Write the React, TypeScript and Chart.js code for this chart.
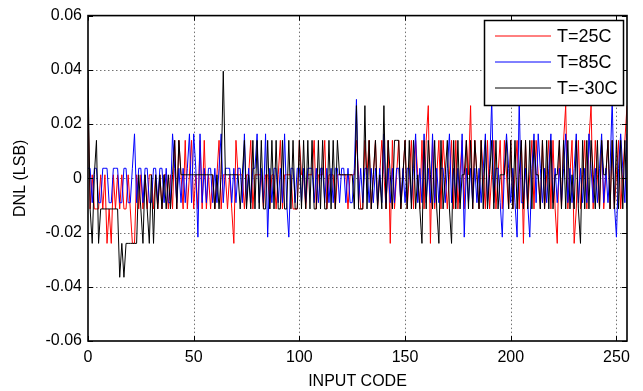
import React, { useEffect, useRef } from 'react';
import { Chart, registerables } from 'chart.js';

Chart.register(...registerables);

// ---------- data ----------
const X_TICKS = [0, 50, 100, 150, 200, 250];
const X_MIN = 0;
const X_MAX = 255;
const Y_TICKS = [-0.06, -0.04, -0.02, 0, 0.02, 0.04, 0.06];
const Y_TICK_LABELS = ['-0.06', '-0.04', '-0.02', '0', '0.02', '0.04', '0.06'];
const SERIES_NAMES = ['T=25C', 'T=85C', 'T=-30C'];
const SERIES_COLORS = ['#ff0000', '#0000ff', '#000000'];
const X_TITLE = 'INPUT CODE';
const Y_TITLE = 'DNL (LSB)';

const DNL_25C = [
  0.0268, -0.0113, 0.0013, -0.0113, -0.0113, -0.0113, 0.0013, -0.0113, 0.0013, -0.024, -0.0113, -0.024, 0.0013, -0.0113, 0.0013, -0.0113,
  0.0013, -0.0113, -0.0113, 0.0013, -0.0113, -0.024, -0.024, 0.0013, -0.0113, 0.0013, -0.0113, 0.0013, -0.0113, 0.0013, 0.0013, -0.0113,
  0.0013, -0.0113, 0.0013, -0.0113, 0.0013, 0.0013, -0.0113, 0.0013, -0.0113, 0.014, -0.0113, 0.014, 0.0013, -0.0113, 0.014, -0.0113,
  0.0013, 0.014, -0.0113, 0.0013, -0.0113, 0.014, -0.0113, 0.014, -0.0113, 0.0013, -0.0113, 0.0013, -0.0113, 0.0013, 0.014, -0.0113,
  0.0013, 0.0013, -0.0113, 0.0013, -0.0113, -0.024, 0.014, 0.0013, 0.0013, 0.0013, -0.0113, 0.0013, 0.0013, 0.014, -0.0113, 0.0013,
  0.0013, 0.0013, 0.0013, -0.0113, 0.0013, 0.0013, -0.0113, 0.0013, 0.0013, -0.0113, 0.0013, 0.014, -0.0113, 0.0013, 0.0013, 0.0013,
  0.0013, -0.0113, -0.0113, -0.0113, 0.014, 0.0013, 0.0013, -0.0113, 0.0013, 0.0013, 0.0013, 0.014, -0.0113, 0.0013, 0.0013, 0.0013,
  0.014, -0.0113, 0.0013, 0.0013, 0.0013, -0.0113, 0.0013, 0.0013, 0.0013, 0.0013, 0.0013, -0.0113, 0.0013, 0.0013, 0.0013, 0.014,
  0.0013, -0.0113, -0.0113, 0.014, 0.0013, 0.014, -0.0113, 0.0013, 0.014, -0.0113, 0.0013, 0.014, 0.0013, -0.0113, 0.014, -0.024,
  0.014, -0.0113, 0.0013, 0.014, -0.0113, 0.0013, 0.014, -0.0113, 0.0013, 0.014, -0.0113, 0.014, 0.0013, -0.0113, 0.014, -0.0113,
  0.014, 0.0268, -0.024, 0.014, -0.0113, 0.0013, 0.014, -0.0113, 0.014, 0.0013, -0.0113, 0.0013, 0.014, -0.0113, 0.014, -0.0113,
  0.0013, 0.014, -0.0113, 0.014, 0.0013, 0.0268, -0.0113, 0.014, 0.0013, -0.0113, 0.014, 0.0013, -0.0113, 0.014, -0.0113, 0.0013,
  0.014, -0.0113, 0.0013, 0.014, -0.0113, 0.014, 0.0013, -0.0113, 0.014, -0.0113, 0.0013, 0.014, -0.0113, 0.014, -0.024, 0.014,
  -0.0113, 0.0013, 0.014, -0.0113, 0.014, 0.0013, -0.0113, 0.014, -0.0113, 0.0013, 0.014, -0.0113, 0.014, -0.0113, -0.024, 0.014,
  -0.0113, 0.014, 0.0268, -0.0113, 0.0013, 0.014, -0.024, -0.0113, 0.014, -0.0113, 0.0013, 0.014, -0.0113, 0.014, 0.0268, -0.0113,
  0.014, 0.0013, -0.0113, 0.014, -0.0113, 0.0013, 0.014, -0.0113, 0.014, -0.0113, 0.0013, 0.014, -0.0113, 0.0013, 0.014, 0.0268,
];

const DNL_85C = [
  0.0037, 0.0037, -0.009, 0.0037, 0.0037, -0.009, -0.009, 0.0037, 0.0037, 0.0037, -0.009, -0.009, 0.0037, 0.0037, 0.0037, -0.009,
  -0.009, 0.0037, 0.0037, -0.009, -0.009, 0.0037, 0.0164, -0.009, 0.0037, 0.0037, -0.009, 0.0037, 0.0037, -0.009, -0.009, 0.0037,
  0.0037, -0.009, 0.0037, 0.0037, -0.009, 0.0037, -0.009, -0.009, 0.0164, 0.0037, -0.009, 0.0037, -0.009, 0.0037, -0.009, 0.0037,
  0.0164, -0.009, 0.0164, 0.0037, -0.0217, 0.0164, -0.009, 0.0037, -0.009, 0.0037, 0.0037, -0.009, 0.0037, -0.009, 0.0037, 0.0164,
  -0.009, 0.0037, 0.0037, 0.0037, -0.009, 0.0037, -0.009, 0.0037, 0.0037, -0.009, 0.0164, -0.009, 0.0037, -0.009, 0.0037, 0.0037,
  0.0164, -0.009, 0.0037, -0.009, 0.0164, -0.0217, 0.0037, -0.009, 0.0037, 0.0037, -0.009, 0.0037, -0.009, 0.0164, -0.009, -0.0217,
  0.0037, 0.0037, -0.009, 0.0037, 0.0037, -0.009, 0.0037, -0.009, 0.0037, 0.0037, 0.0037, -0.009, 0.0037, -0.009, 0.0037, 0.0037,
  -0.009, 0.0037, -0.009, 0.0037, -0.009, 0.0037, 0.0037, -0.009, 0.0037, 0.0037, -0.009, 0.0037, -0.009, -0.009, 0.0037, 0.0291,
  -0.009, 0.0037, -0.009, 0.0037, 0.0037, -0.009, 0.0037, -0.009, 0.0037, -0.009, 0.0037, -0.009, 0.0164, -0.009, 0.0037, -0.009,
  0.0037, -0.009, 0.0037, 0.0037, -0.009, 0.0037, -0.009, 0.0037, 0.0037, -0.009, 0.0037, 0.0164, -0.009, 0.0037, -0.009, 0.0164,
  -0.009, 0.0037, -0.009, 0.0164, -0.009, 0.0037, -0.009, 0.0037, 0.0037, -0.009, 0.0037, 0.0164, -0.009, 0.0037, -0.009, 0.0037,
  -0.009, 0.0164, -0.0217, 0.0037, -0.009, 0.0037, -0.009, 0.0037, -0.009, 0.0037, -0.009, 0.0037, 0.0164, -0.009, 0.0037, 0.0291,
  -0.009, 0.0037, 0.0037, -0.009, -0.0217, 0.0037, 0.0164, 0.0037, -0.009, 0.0037, -0.009, -0.0217, 0.0291, -0.009, -0.009, 0.0037,
  -0.009, -0.0217, 0.0037, 0.0164, -0.009, 0.0164, 0.0037, -0.009, 0.0037, -0.009, 0.0037, 0.0164, -0.009, 0.0037, -0.009, 0.0037,
  -0.009, 0.0037, 0.0164, -0.009, 0.0037, -0.009, 0.0037, 0.0164, -0.009, 0.0037, -0.009, 0.0037, -0.009, 0.0164, 0.0037, -0.009,
  0.0037, -0.009, 0.0037, 0.0164, -0.009, 0.0037, -0.009, 0.0037, 0.0291, -0.009, -0.0217, 0.0037, 0.0164, 0.0037, -0.009, 0.0164,
];

const DNL_M30C = [
  0.0395, -0.0113, -0.024, 0.0013, 0.014, -0.024, -0.0113, -0.0113, -0.0113, -0.0113, -0.0113, -0.0113, -0.0113, -0.0113, -0.0113, -0.0365,
  -0.024, -0.0365, -0.024, -0.024, -0.024, -0.024, -0.024, -0.024, 0.0013, -0.0113, -0.024, 0.0013, -0.0113, -0.024, 0.0013, -0.024,
  0.0013, -0.0113, 0.0013, -0.0113, 0.0013, -0.0113, 0.0013, -0.0113, 0.0013, 0.014, -0.0113, 0.014, 0.0013, 0.0013, 0.0013, 0.0013,
  0.0013, 0.0013, 0.0013, 0.0013, 0.0013, 0.0013, 0.0013, 0.0013, 0.0013, 0.0013, 0.0013, 0.0013, -0.0113, 0.0013, -0.0113, 0.0013,
  0.0395, 0.0013, 0.0013, 0.0013, 0.0013, 0.0013, 0.0013, 0.0013, -0.0113, 0.0013, 0.014, -0.0113, 0.0013, -0.0113, 0.014, -0.0113,
  0.014, -0.0113, 0.014, -0.0113, -0.0113, 0.014, -0.0113, 0.014, -0.0113, 0.014, -0.0113, -0.0113, 0.014, -0.0113, -0.0113, 0.014,
  -0.0113, 0.014, -0.0113, -0.0113, 0.014, -0.0113, 0.014, -0.0113, 0.014, -0.0113, 0.014, -0.0113, -0.0113, 0.014, -0.0113, 0.014,
  -0.0113, -0.0113, 0.014, -0.0113, 0.014, -0.0113, 0.014, 0.0013, 0.0013, 0.0013, 0.0013, 0.0013, 0.0013, 0.0013, -0.0113, 0.0268,
  -0.0113, -0.0113, -0.0113, 0.0268, -0.0113, 0.014, -0.0113, 0.0013, 0.014, -0.0113, 0.0013, -0.0113, 0.0268, -0.0113, 0.014, 0.0013,
  -0.0113, 0.014, 0.014, 0.014, -0.0113, 0.0013, 0.014, -0.0113, 0.014, -0.0113, 0.014, -0.0113, 0.0013, -0.0113, -0.024, 0.014,
  -0.0113, 0.014, 0.0013, -0.0113, 0.014, -0.0113, -0.024, 0.014, -0.0113, 0.0013, 0.014, -0.0113, -0.024, 0.014, -0.0113, 0.014,
  -0.0113, 0.0013, 0.0013, 0.014, -0.0113, 0.014, -0.0113, 0.014, 0.0013, -0.0113, 0.014, -0.0113, 0.014, -0.0113, 0.0013, 0.014,
  -0.0113, 0.014, -0.0113, 0.0013, 0.0013, 0.0013, 0.014, -0.0113, 0.014, -0.0113, 0.014, -0.0113, 0.0013, 0.014, -0.0113, 0.014,
  -0.0113, 0.014, -0.0113, 0.014, 0.0013, 0.0013, -0.0113, 0.014, -0.0113, 0.014, -0.0113, 0.014, -0.0113, 0.0013, 0.0013, 0.014,
  -0.0113, 0.014, -0.0113, 0.014, -0.0113, 0.0013, -0.0113, 0.014, -0.0113, -0.024, 0.014, -0.0113, 0.014, -0.0113, 0.014, 0.0013,
  -0.0113, 0.014, -0.0113, 0.014, 0.0013, 0.0013, 0.014, -0.0113, 0.014, -0.0113, 0.014, -0.0113, 0.014, -0.0113, 0.014, -0.0113,
];

const SERIES = [DNL_25C, DNL_85C, DNL_M30C];

// ---------- style ----------
const FONT_FAMILY = '"Liberation Sans", Arial, Helvetica, sans-serif';
const TICK_FONT_SIZE = 16;
const LEGEND_FONT_SIZE = 18;

const matlabPlugin = {
  id: 'matlabAxes',
  beforeDatasetsDraw(chart: any) {
    const { ctx, chartArea, scales } = chart;
    const { left, right, top, bottom } = chartArea;
    ctx.save();
    ctx.strokeStyle = 'rgba(0,0,0,0.55)';
    ctx.lineWidth = 1;
    ctx.setLineDash([1.5, 2.5]);
    X_TICKS.forEach((v) => {
      const px = Math.round(scales.x.getPixelForValue(v)) + 0.5;
      if (px <= left + 1 || px >= right - 1) return;
      ctx.beginPath();
      ctx.moveTo(px, top);
      ctx.lineTo(px, bottom);
      ctx.stroke();
    });
    Y_TICKS.forEach((v) => {
      const py = Math.round(scales.y.getPixelForValue(v)) + 0.5;
      if (py <= top + 1 || py >= bottom - 1) return;
      ctx.beginPath();
      ctx.moveTo(left, py);
      ctx.lineTo(right, py);
      ctx.stroke();
    });
    ctx.restore();
  },
  afterDatasetsDraw(chart: any) {
    const { ctx, chartArea, scales } = chart;
    const { left, right, top, bottom } = chartArea;
    ctx.save();
    ctx.strokeStyle = '#000';
    ctx.lineWidth = 1;
    const tl = 5;
    X_TICKS.forEach((v) => {
      const px = Math.round(scales.x.getPixelForValue(v)) + 0.5;
      ctx.beginPath();
      ctx.moveTo(px, bottom);
      ctx.lineTo(px, bottom - tl);
      ctx.moveTo(px, top);
      ctx.lineTo(px, top + tl);
      ctx.stroke();
    });
    Y_TICKS.forEach((v) => {
      const py = Math.round(scales.y.getPixelForValue(v)) + 0.5;
      ctx.beginPath();
      ctx.moveTo(left, py);
      ctx.lineTo(left + tl, py);
      ctx.moveTo(right, py);
      ctx.lineTo(right - tl, py);
      ctx.stroke();
    });
    ctx.lineWidth = 1.6;
    ctx.strokeRect(left, top, right - left, bottom - top);
    ctx.restore();
  },
  afterDraw(chart: any) {
    const { ctx, chartArea } = chart;
    const { right, top } = chartArea;
    const w = 139;
    const h = 85;
    const x0 = Math.round(right - 143);
    const y0 = Math.round(top + 4);
    ctx.save();
    ctx.fillStyle = '#fff';
    ctx.fillRect(x0, y0, w, h);
    ctx.strokeStyle = '#000';
    ctx.lineWidth = 1.5;
    ctx.strokeRect(x0 + 0.5, y0 + 0.5, w, h);
    ctx.font = `${LEGEND_FONT_SIZE}px ${FONT_FAMILY}`;
    ctx.textBaseline = 'middle';
    ctx.textAlign = 'left';
    SERIES_NAMES.forEach((name, i) => {
      const yy = y0 + 16 + i * 26;
      ctx.strokeStyle = SERIES_COLORS[i];
      ctx.lineWidth = 1;
      ctx.beginPath();
      ctx.moveTo(x0 + 11, yy);
      ctx.lineTo(x0 + 67, yy);
      ctx.stroke();
      ctx.fillStyle = '#000';
      ctx.fillText(name, x0 + 73, yy + 1);
    });
    ctx.restore();
  },
};

export default function App() {
  const canvasRef = useRef<HTMLCanvasElement | null>(null);

  useEffect(() => {
    if (!canvasRef.current) return;
    const datasets = SERIES.map((values, i) => ({
      label: SERIES_NAMES[i],
      data: values.map((v, code) => ({ x: code, y: v })),
      borderColor: SERIES_COLORS[i],
      backgroundColor: SERIES_COLORS[i],
      borderWidth: 1,
      pointRadius: 0,
      tension: 0,
      fill: false,
      order: 3 - i,
    }));

    const chart = new Chart(canvasRef.current, {
      type: 'line',
      data: { datasets },
      plugins: [matlabPlugin],
      options: {
        animation: false,
        responsive: false,
        devicePixelRatio: 1,
        layout: { padding: { left: 0, right: 16, top: 15, bottom: 0 } },
        plugins: {
          legend: { display: false },
          tooltip: { enabled: false },
        },
        scales: {
          x: {
            type: 'linear',
            min: X_MIN,
            max: X_MAX,
            afterBuildTicks: (scale: any) => {
              scale.ticks = X_TICKS.map((v) => ({ value: v }));
            },
            afterFit: (scale: any) => {
              scale.height = 50;
            },
            grid: { display: false, drawTicks: false },
            border: { display: false },
            ticks: {
              autoSkip: false,
              maxRotation: 0,
              padding: 7,
              color: '#000',
              font: { family: FONT_FAMILY, size: TICK_FONT_SIZE },
              callback: (v: any) => String(v),
            },
            title: {
              display: true,
              text: X_TITLE,
              color: '#000',
              font: { family: FONT_FAMILY, size: TICK_FONT_SIZE },
              padding: { top: 0, bottom: 0 },
            },
          },
          y: {
            type: 'linear',
            min: Y_TICKS[0],
            max: Y_TICKS[Y_TICKS.length - 1],
            afterBuildTicks: (scale: any) => {
              scale.ticks = Y_TICKS.map((v) => ({ value: v }));
            },
            afterFit: (scale: any) => {
              scale.width = 88;
            },
            grid: { display: false, drawTicks: false },
            border: { display: false },
            ticks: {
              autoSkip: false,
              padding: 6,
              color: '#000',
              font: { family: FONT_FAMILY, size: TICK_FONT_SIZE },
              callback: (_v: any, idx: number) => Y_TICK_LABELS[idx],
            },
            title: {
              display: true,
              text: Y_TITLE,
              color: '#000',
              font: { family: FONT_FAMILY, size: TICK_FONT_SIZE },
              padding: { top: 11, bottom: 0 },
            },
          },
        },
      },
    } as any);

    return () => chart.destroy();
  }, []);

  return (
    <div style={{ position: 'fixed', left: 0, top: 0, width: 643, height: 391, background: '#fff' }}>
      <canvas ref={canvasRef} width={643} height={391} style={{ display: 'block' }} />
    </div>
  );
}
